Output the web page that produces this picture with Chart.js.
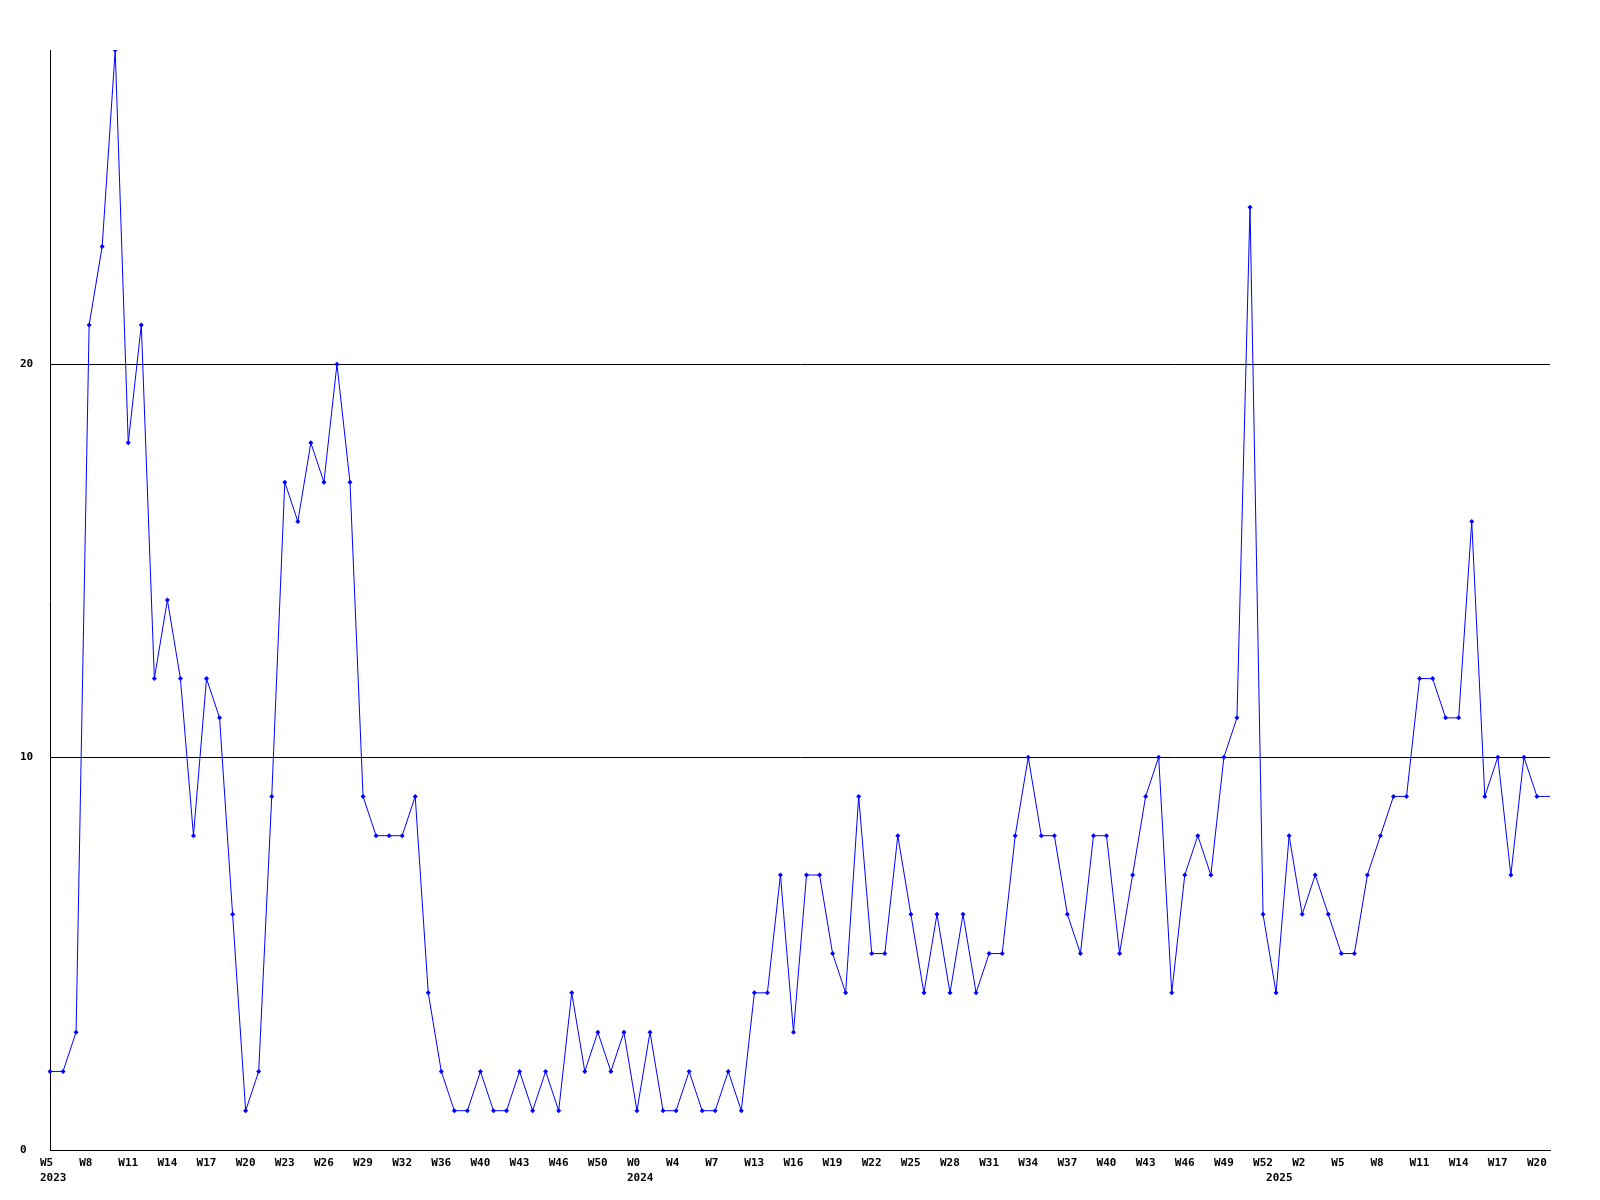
<!DOCTYPE html>
<html>
<head>
<meta charset="utf-8">
<script src="https://cdn.jsdelivr.net/npm/chart.js@4/dist/chart.umd.min.js"></script>
<style>
  html, body { margin: 0; padding: 0; background: #ffffff; }
  #wrap { width: 1600px; height: 1200px; }
</style>
</head>
<body>
<div id="wrap"><canvas id="c" width="1600" height="1200"></canvas></div>
<script>
// Week tick labels, one every third data point
const tickLabels = ['W5','W8','W11','W14','W17','W20','W23','W26','W29','W32','W36','W40','W43',
  'W46','W50','W0','W4','W7','W13','W16','W19','W22','W25','W28','W31','W34','W37','W40','W43',
  'W46','W49','W52','W2','W5','W8','W11','W14','W17','W20'];
const tickStep = 3;
// Year labels and the data point index where each year begins
const yearLabels = ['2023','2024','2025'];
const yearStart = [0, 45, 94];
// Weekly values
const values = [
  2,2,3,21,23,28,18,21,12,14,
  12,8,12,11,6,1,2,9,17,16,
  18,17,20,17,9,8,8,8,9,4,
  2,1,1,2,1,1,2,1,2,1,
  4,2,3,2,3,1,3,1,1,2,
  1,1,2,1,4,4,7,3,7,7,
  5,4,9,5,5,8,6,4,6,4,
  6,4,5,5,8,10,8,8,6,5,
  8,8,5,7,9,10,4,7,8,7,
  10,11,24,6,4,8,6,7,6,5,
  5,7,8,9,9,12,12,11,11,16,
  9,10,7,10,9,9
];
const yMax = 28;
const yStep = 10;

const categories = values.map((v, i) => (i % tickStep === 0 && tickLabels[i / tickStep]) ? tickLabels[i / tickStep] : '');
const pointRadii = values.map((v, i) => i === values.length - 1 ? 0 : 2.5);

const FONT = { family: "'DejaVu Sans Mono', monospace", size: 11, weight: 'bold' };

const xLabelPlugin = {
  id: 'xLabels',
  afterDraw(chart) {
    const ctx = chart.ctx;
    const xs = chart.scales.x;
    const bottom = chart.chartArea.bottom;
    ctx.save();
    ctx.fillStyle = '#000000';
    ctx.font = 'bold 11px "DejaVu Sans Mono", monospace';
    ctx.textAlign = 'left';
    ctx.textBaseline = 'alphabetic';
    categories.forEach((lab, i) => {
      if (!lab) return;
      ctx.fillText(lab, xs.getPixelForValue(i) - 10, bottom + 16);
    });
    yearLabels.forEach((lab, k) => {
      ctx.fillText(lab, xs.getPixelForValue(yearStart[k]) - 10, bottom + 31);
    });
    ctx.restore();
  }
};

new Chart(document.getElementById('c'), {
  type: 'line',
  data: {
    labels: categories,
    datasets: [{
      data: values,
      borderColor: '#0000ff',
      backgroundColor: '#0000ff',
      borderWidth: 1,
      tension: 0,
      fill: false,
      pointStyle: 'rectRot',
      pointRadius: pointRadii,
      pointHoverRadius: pointRadii,
      pointBorderWidth: 0,
      pointBackgroundColor: '#0000ff'
    }]
  },
  options: {
    responsive: false,
    animation: false,
    devicePixelRatio: 1,
    layout: { padding: { left: 20, right: 50, top: 50, bottom: 50 } },
    plugins: { legend: { display: false }, tooltip: { enabled: false } },
    scales: {
      x: {
        type: 'category',
        offset: false,
        grid: { display: false, drawTicks: false },
        border: { display: true, color: '#000000', width: 1 },
        ticks: { display: false },
        afterFit(s) { s.height = 0; }
      },
      y: {
        min: 0,
        max: yMax,
        grid: { color: '#000000', lineWidth: 1, drawTicks: false, tickLength: 0 },
        border: { display: true, color: '#000000', width: 1 },
        ticks: {
          stepSize: yStep,
          includeBounds: false,
          color: '#000000',
          font: FONT,
          crossAlign: 'far',
          padding: 0
        },
        afterFit(s) { s.width = 30; }
      }
    }
  },
  plugins: [xLabelPlugin]
});
</script>
</body>
</html>
